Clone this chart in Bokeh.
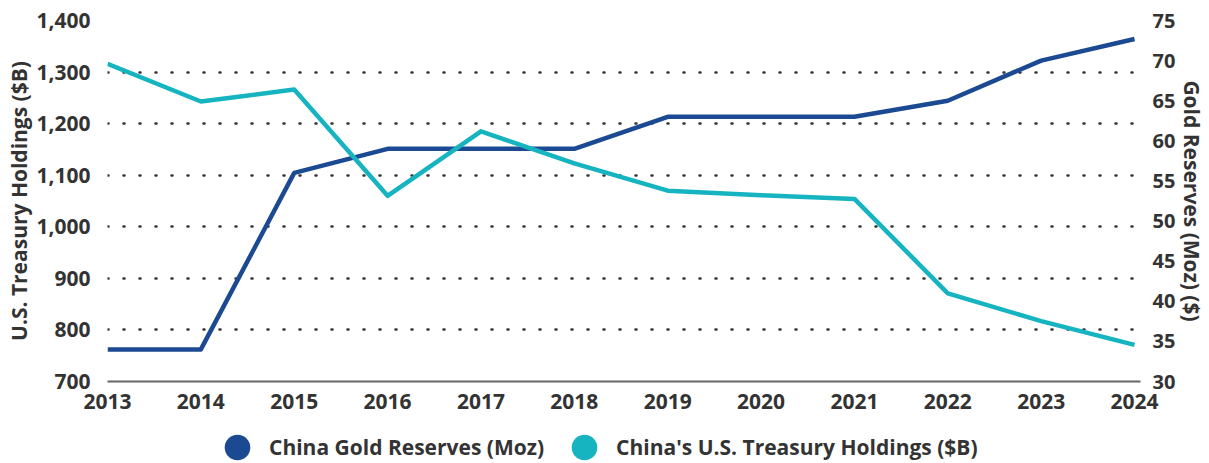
from bokeh.plotting import figure
from bokeh.layouts import column
from bokeh.models import Range1d, LinearAxis, FixedTicker, NumeralTickFormatter, Legend, LegendItem
from bokeh.embed import file_html
from bokeh.resources import INLINE

years = [2013, 2014, 2015, 2016, 2017, 2018, 2019, 2020, 2021, 2022, 2023, 2024]
gold_moz = [34.0, 34.0, 56.0, 59.0, 59.0, 59.0, 63.0, 63.0, 63.0, 65.0, 70.0, 72.7]
treasury_bn = [1316, 1243, 1266, 1060, 1185, 1123, 1070, 1061, 1054, 871, 817, 771]
left_ticks = [700, 800, 900, 1000, 1100, 1200, 1300, 1400]
right_ticks = [30, 35, 40, 45, 50, 55, 60, 65, 70, 75]
gold_label = "China Gold Reserves (Moz)"
treasury_label = "China's U.S. Treasury Holdings ($B)"

BLUE = "#1b4a93"
CYAN = "#16b4c1"
TXT = "#333333"
FONT = "Open Sans"

p = figure(width=1209, height=420, x_range=Range1d(2013, 2024.064), y_range=Range1d(700, 1400),
           output_backend="svg", toolbar_location=None,
           min_border_left=107, min_border_right=0, min_border_top=20, min_border_bottom=39)
p.outline_line_color = None
p.background_fill_color = "white"
p.border_fill_color = "white"

p.extra_y_ranges = {"gold": Range1d(30, 75)}
right = LinearAxis(y_range_name="gold", ticker=FixedTicker(ticks=right_ticks),
                   axis_label="Gold Reserves (Moz) ($)")
p.add_layout(right, "right")

p.yaxis[0].ticker = FixedTicker(ticks=left_ticks)
p.yaxis[0].formatter = NumeralTickFormatter(format="0,0")
p.yaxis[0].axis_label = "U.S. Treasury Holdings ($B)"
p.xaxis.ticker = FixedTicker(ticks=years)

for ax in [p.xaxis[0], p.yaxis[0], right]:
    ax.major_tick_line_color = None
    ax.minor_tick_line_color = None
    ax.major_label_text_font = FONT
    ax.major_label_text_font_style = "bold"
    ax.major_label_text_font_size = "21px"
    ax.major_label_text_color = TXT
    ax.axis_label_text_font = FONT
    ax.axis_label_text_font_style = "bold"
    ax.axis_label_text_font_size = "21px"
    ax.axis_label_text_color = TXT
right.major_label_text_font_size = "20px"
p.yaxis[0].axis_line_color = None
right.axis_line_color = None
p.yaxis[0].major_label_standoff = 11
right.major_label_standoff = 6
p.yaxis[0].axis_label_standoff = 0
right.axis_label_standoff = 0
p.xaxis[0].axis_line_color = "#666666"
p.xaxis[0].axis_line_width = 2
p.xaxis[0].major_label_standoff = 6

p.xgrid.visible = False
p.ygrid.grid_line_color = TXT
p.ygrid.grid_line_dash = "1 15"
p.ygrid.grid_line_width = 2.5
p.ygrid.grid_line_cap = "round"

p.line(years, gold_moz, y_range_name="gold", line_color=BLUE, line_width=4.5, line_join="round")
p.line(years, treasury_bn, line_color=CYAN, line_width=4.5, line_join="round")

# legend strip
leg = figure(width=1209, height=43, output_backend="svg", toolbar_location=None,
             min_border=0, x_axis_type=None, y_axis_type=None)
leg.outline_line_color = None
leg.xgrid.visible = False
leg.ygrid.visible = False
s1 = leg.scatter(years, gold_moz, size=26, fill_color=BLUE, line_color=None, visible=False)
s2 = leg.scatter(years, treasury_bn, size=26, fill_color=CYAN, line_color=None, visible=False)
legend = Legend(items=[LegendItem(label=gold_label, renderers=[s1]),
                       LegendItem(label=treasury_label, renderers=[s2])],
                orientation="horizontal", location=(98, -16),
                glyph_width=64, glyph_height=64, label_standoff=0, spacing=8,
                padding=0, margin=0, border_line_color=None, background_fill_alpha=0,
                label_text_font=FONT, label_text_font_style="bold", label_text_font_size="21px",
                label_text_color=TXT)
leg.add_layout(legend, "center")

open("out.html", "w").write(file_html(column(p, leg), INLINE))
